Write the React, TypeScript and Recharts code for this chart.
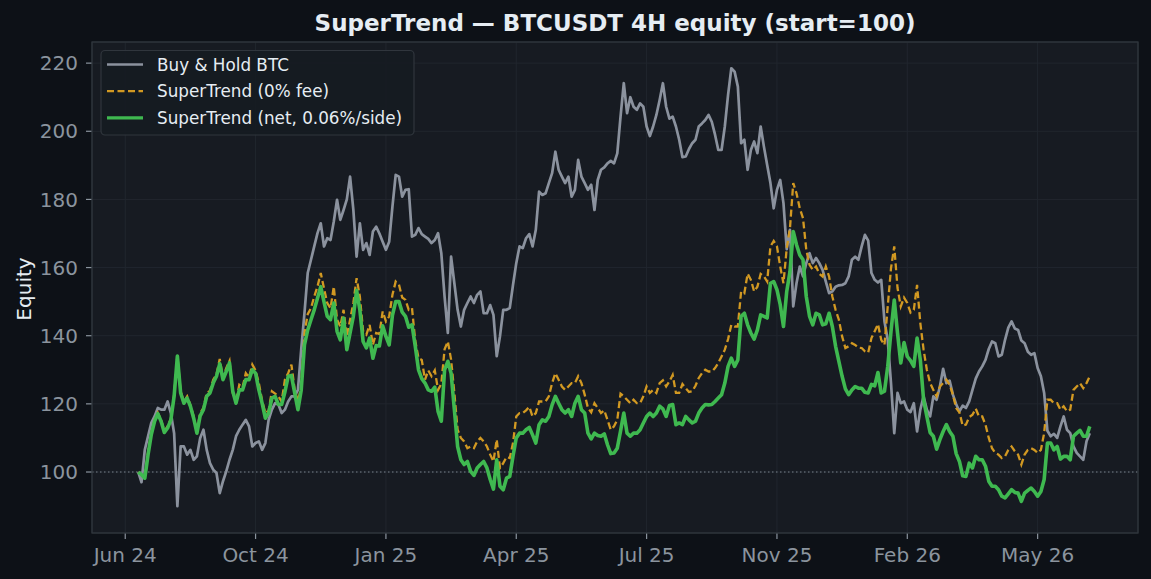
import React from 'react';
import { LineChart, Line, XAxis, YAxis, CartesianGrid, ReferenceLine } from 'recharts';

// ---- data (equity, start = 100), one value every 2.5 days ----
const START_DAY = 10;
const STEP_DAYS = 2.5;

const buyHold = [
  100, 97, 106.5, 110.5, 114.4, 116.3, 118.8, 118.3, 118.3, 120.7, 117.3, 111.4, 90.0, 107.5, 107.5, 105.1, 106.5, 103.6, 104.6, 110.0,
  112.4, 106.5, 102.6, 100.7, 99.7, 93.8, 97.3, 100.2, 103.6, 106.5, 110.5, 112.4, 113.9, 115.3, 113.4, 107.5, 108.5, 109.0, 106.5, 108.5,
  115.3, 118.3, 120.2, 119.8, 117.3, 118.3, 120.7, 122.2, 122.2, 124.1, 135.9, 146.6, 158.4, 162.3, 166.2, 170.1, 173.0, 166.2, 168.6, 168.1,
  173.5, 179.9, 174.0, 176.9, 180.0, 186.7, 177.0, 163.2, 173.0, 165.2, 167.2, 163.7, 170.6, 172.0, 170.0, 167.6, 165.2, 167.6, 177.9, 187.2,
  186.7, 180.8, 182.8, 183.0, 169.1, 169.6, 171.6, 169.8, 169.1, 168.4, 167.2, 168.1, 170.1, 164.2, 151.5, 140.8, 163.2, 155.4, 147.6, 142.7,
  147.6, 149.6, 151.5, 149.6, 152.0, 153.0, 146.6, 146.6, 149.0, 146.1, 134.0, 139.8, 147.6, 147.6, 148.1, 154.9, 161.3, 166.2, 165.7, 168.6,
  169.8, 166.2, 171.1, 182.3, 181.3, 181.8, 184.8, 187.7, 194.0, 188.7, 186.7, 184.8, 186.7, 180.8, 182.8, 191.6, 186.7, 184.8, 182.8, 184.3,
  176.9, 185.7, 188.7, 189.4, 190.6, 191.3, 190.6, 193.5, 204.3, 214.1, 205.3, 210.0, 207.2, 206.3, 208.2, 207.2, 201.4, 198.6, 201.4, 204.8,
  209.2, 214.1, 207.2, 203.7, 204.3, 201.4, 197.5, 192.4, 192.6, 194.8, 196.5, 197.5, 201.4, 202.3, 203.3, 204.8, 202.8, 199.0, 194.5, 194.5,
  201.4, 210.7, 218.5, 217.5, 213.1, 196.5, 197.5, 188.7, 194.5, 197.0, 193.6, 201.4, 195.5, 190.1, 184.8, 177.4, 182.8, 185.7, 178.9, 165.4,
  171.1, 148.6, 155.4, 160.3, 157.4, 161.3, 164.2, 161.3, 162.8, 161.3, 159.3, 155.9, 152.5, 153.0, 154.4, 154.8, 154.9, 155.4, 157.4, 162.3,
  163.2, 162.3, 166.2, 169.6, 167.9, 158.4, 156.4, 155.6, 156.4, 144.2, 138.8, 126.1, 111.4, 123.2, 120.2, 120.7, 118.3, 117.6, 120.2, 111.9,
  118.3, 122.2, 118.3, 116.3, 122.2, 121.2, 125.1, 130.3, 126.1, 126.8, 122.7, 119.9, 117.8, 119.5, 118.8, 120.7, 124.1, 127.4, 129.5, 131.0,
  132.9, 136.1, 138.3, 137.8, 133.9, 134.4, 138.8, 142.4, 144.2, 142.1, 141.7, 138.6, 137.8, 135.3, 134.4, 134.9, 130.5, 128.1, 123.2, 112.1,
  110.5, 111.2, 110.0, 113.4, 116.3, 112.4, 111.4, 107.5, 105.6, 104.6, 103.6, 109.0, 111.4,
];

const superTrendNoFee = [
  100, 99.2, 98.3, 105.6, 111.3, 115.3, 117.4, 115.3, 112.0, 113.4, 115.6, 122.7, 134.2, 123.7, 120.5, 122.2, 119.6, 116.3, 111.9, 117.3,
  118.8, 123.2, 123.8, 127.1, 128.6, 133.2, 127.6, 130.5, 132.6, 123.2, 120.8, 125.6, 124.8, 129.0, 127.8, 131.5, 129.8, 126.1, 121.0, 117.3,
  118.0, 123.7, 123.0, 122.2, 120.7, 127.1, 129.0, 131.5, 124.1, 120.7, 125.0, 140.8, 146.3, 148.1, 151.5, 154.4, 158.4, 153.9, 149.6, 148.1,
  154.4, 144.7, 142.7, 147.6, 139.8, 144.7, 149.6, 156.9, 151.5, 141.3, 140.3, 143.2, 137.3, 140.8, 140.5, 147.1, 144.2, 145.7, 152.0, 155.9,
  155.0, 151.2, 150.5, 147.6, 148.1, 138.5, 133.4, 132.9, 127.1, 129.8, 128.1, 129.8, 124.1, 125.9, 136.0, 138.3, 133.0, 123.2, 112.4, 110.0,
  109.0, 107.0, 107.5, 107.0, 109.0, 110.0, 109.0, 107.5, 105.1, 103.1, 109.5, 101.2, 102.6, 104.4, 104.1, 108.5, 116.3, 117.3, 117.3, 118.1,
  119.1, 116.3, 117.3, 120.7, 120.7, 120.7, 122.2, 126.1, 129.0, 127.1, 125.1, 124.1, 125.1, 126.1, 126.1, 128.1, 126.1, 122.7, 118.8, 117.5,
  120.2, 118.8, 117.3, 118.1, 115.3, 112.4, 113.4, 115.3, 123.0, 122.2, 121.2, 120.2, 121.2, 120.2, 120.2, 122.2, 125.1, 123.2, 124.1, 123.2,
  126.1, 126.9, 125.1, 126.6, 128.5, 123.2, 123.2, 125.8, 124.6, 123.5, 123.7, 125.3, 127.6, 129.0, 130.0, 129.5, 129.5, 130.5, 132.0, 133.9,
  135.9, 139.0, 143.2, 142.7, 142.7, 153.0, 152.5, 158.2, 156.4, 153.0, 154.4, 158.1, 157.4, 155.9, 166.2, 167.8, 166.2, 160.3, 155.4, 165.7,
  171.6, 184.8, 181.8, 177.4, 174.5, 165.2, 160.8, 159.3, 160.3, 158.2, 157.4, 160.3, 157.4, 151.5, 147.6, 144.7, 139.8, 136.4, 136.9, 137.8,
  137.3, 136.5, 136.4, 135.4, 135.0, 139.3, 141.3, 143.4, 138.8, 137.3, 148.6, 159.8, 166.2, 154.0, 148.6, 151.2, 149.6, 146.8, 147.6, 154.9,
  143.7, 135.9, 130.0, 126.1, 124.1, 122.2, 125.1, 126.1, 127.1, 125.6, 122.7, 118.8, 117.5, 113.6, 113.9, 116.1, 116.8, 118.6, 116.3, 116.3,
  113.9, 110.0, 107.0, 105.6, 105.1, 104.1, 104.6, 106.5, 107.5, 106.1, 105.1, 102.2, 105.1, 106.5, 107.0, 106.5, 105.6, 106.5, 111.4, 121.2,
  121.2, 120.2, 120.2, 118.3, 119.3, 117.8, 118.3, 124.1, 125.1, 126.1, 124.6, 126.1, 128.1,
];

const superTrendNet = [
  100, 99.2, 98.2, 105.1, 111.0, 114.9, 117.1, 114.9, 111.6, 112.9, 115.3, 122.2, 134.0, 123.2, 120.2, 121.7, 119.3, 115.8, 111.4, 116.5,
  118.3, 122.2, 123.2, 126.1, 128.1, 131.8, 127.1, 129.5, 132.0, 123.7, 120.2, 124.1, 124.1, 127.1, 127.1, 130.0, 129.0, 124.1, 120.2, 115.8,
  117.3, 121.7, 122.2, 119.8, 119.8, 123.5, 128.1, 128.3, 123.2, 118.3, 124.0, 137.3, 141.7, 144.7, 147.6, 151.0, 154.4, 149.9, 145.7, 144.7,
  149.6, 141.3, 138.8, 145.2, 135.9, 140.8, 145.7, 153.3, 147.6, 138.3, 136.4, 139.3, 133.4, 137.1, 137.0, 142.9, 139.8, 137.3, 146.0, 150.0,
  150.0, 146.9, 145.7, 142.5, 143.2, 136.9, 130.0, 127.4, 126.1, 124.1, 123.7, 124.9, 117.8, 114.9, 130.0, 132.5, 129.0, 118.3, 107.5, 103.6,
  102.2, 103.1, 100.2, 99.0, 101.2, 102.2, 103.1, 101.2, 97.8, 95.0, 103.6, 95.8, 94.8, 98.2, 98.7, 104.6, 110.0, 111.4, 111.4, 112.4,
  113.1, 110.9, 108.5, 113.9, 115.3, 114.9, 116.3, 119.7, 122.2, 120.2, 118.3, 117.3, 118.3, 116.3, 120.2, 122.2, 118.3, 117.3, 111.4, 109.7,
  111.4, 110.7, 110.5, 111.2, 108.0, 105.4, 105.6, 107.0, 112.0, 117.3, 111.4, 110.5, 111.4, 111.4, 112.4, 114.4, 116.3, 117.3, 116.3, 117.3,
  119.3, 118.5, 116.3, 119.5, 119.8, 113.9, 114.4, 113.9, 116.3, 115.3, 114.4, 114.9, 117.3, 118.8, 119.8, 119.7, 119.8, 120.7, 121.7, 122.7,
  126.1, 131.0, 133.4, 131.0, 132.9, 145.7, 146.6, 143.2, 140.8, 139.0, 141.7, 146.1, 145.7, 145.2, 155.4, 155.9, 153.5, 149.1, 142.7, 153.0,
  158.8, 170.6, 166.7, 163.7, 162.3, 151.5, 145.7, 143.2, 146.6, 146.1, 143.2, 143.5, 146.6, 142.7, 136.9, 132.5, 128.1, 124.4, 122.7, 124.1,
  125.1, 124.6, 124.6, 123.4, 123.2, 125.7, 125.3, 129.2, 123.2, 123.7, 131.0, 141.3, 150.5, 140.8, 132.0, 138.0, 133.9, 132.7, 131.0, 139.3,
  132.9, 121.2, 116.3, 111.6, 110.5, 106.7, 109.5, 111.9, 113.9, 111.9, 110.5, 105.4, 103.1, 98.9, 98.7, 102.6, 101.2, 104.6, 103.6, 103.6,
  101.7, 97.3, 95.8, 95.8, 94.8, 92.9, 92.4, 93.6, 94.8, 94.0, 93.8, 91.4, 93.8, 94.6, 95.3, 94.3, 92.9, 94.3, 97.8, 108.5,
  108.5, 106.5, 107.5, 103.8, 104.6, 104.6, 103.6, 110.5, 111.4, 112.2, 110.5, 110.5, 113.4,
];

const xTickDays = [0, 100, 200, 300, 400, 500, 600, 700];
const xTickLabels = ['Jun 24', 'Oct 24', 'Jan 25', 'Apr 25', 'Jul 25', 'Nov 25', 'Feb 26', 'May 26'];
const yTicks = [100, 120, 140, 160, 180, 200, 220];

const seriesNames = ['Buy & Hold BTC', 'SuperTrend (0% fee)', 'SuperTrend (net, 0.06%/side)'];

const nPoints = Math.min(buyHold.length, superTrendNoFee.length, superTrendNet.length);
const data = buyHold.slice(0, nPoints).map((v, i) => ({
  day: START_DAY + i * STEP_DAYS,
  hold: v,
  gross: superTrendNoFee[i],
  net: superTrendNet[i],
}));

// ---- styling ----
const W = 1151;
const H = 579;
const FONT = '"DejaVu Sans", Verdana, sans-serif';
const BG = '#0d1117';
const PANEL = '#171b22';
const SPINE = '#30363d';
const MUTED = '#8b949e';
const TEXT = '#e6edf3';
const GREY = '#8b929e';
const ORANGE = '#d29922';
const GREEN = '#3fb950';

const PLOT = { left: 92, top: 42, right: 1138, bottom: 533 };

const labelForDay = (v: number) => {
  const i = xTickDays.indexOf(v);
  return i >= 0 ? xTickLabels[i] : '';
};

export default function App() {
  const legendRows = [
    { name: seriesNames[0], color: GREY, width: 2.6, dash: undefined as string | undefined },
    { name: seriesNames[1], color: ORANGE, width: 2.2, dash: '7 3.5' },
    { name: seriesNames[2], color: GREEN, width: 3.4, dash: undefined },
  ];
  return (
    <div style={{ position: 'fixed', left: 0, top: 0, width: W, height: H, background: BG, fontFamily: FONT }}>
      <LineChart
        width={W}
        height={H}
        data={data}
        margin={{ top: PLOT.top, right: W - PLOT.right, bottom: 0, left: 0 }}
      >
        <CartesianGrid stroke="#21262e" strokeWidth={1} fill={PANEL} fillOpacity={1} />
        <XAxis
          dataKey="day"
          type="number"
          domain={[-25.5, 777]}
          allowDataOverflow
          ticks={xTickDays}
          interval={0}
          tickFormatter={labelForDay}
          height={H - PLOT.bottom}
          axisLine={false}
          tickLine={{ stroke: MUTED, strokeWidth: 1.2 }}
          tickSize={6}
          tickMargin={9}
          tick={{ fill: MUTED, fontSize: 20, fontFamily: FONT }}
        />
        <YAxis
          type="number"
          domain={[82.1, 226.2]}
          allowDataOverflow
          ticks={yTicks}
          interval={0}
          width={PLOT.left}
          axisLine={false}
          tickLine={{ stroke: MUTED, strokeWidth: 1.2 }}
          tickSize={6}
          tickMargin={8}
          tick={{ fill: MUTED, fontSize: 20, fontFamily: FONT }}
        />
        <ReferenceLine y={100} stroke={MUTED} strokeWidth={1.1} strokeDasharray="1.5 2.5" strokeOpacity={0.85} />
        <Line
          type="linear"
          dataKey="hold"
          name={seriesNames[0]}
          stroke={GREY}
          strokeWidth={2.7}
          dot={false}
          activeDot={false}
          strokeLinejoin="round"
          isAnimationActive={false}
        />
        <Line
          type="linear"
          dataKey="gross"
          name={seriesNames[1]}
          stroke={ORANGE}
          strokeWidth={2.3}
          strokeDasharray="7 3.5"
          dot={false}
          activeDot={false}
          isAnimationActive={false}
        />
        <Line
          type="linear"
          dataKey="net"
          name={seriesNames[2]}
          stroke={GREEN}
          strokeWidth={3.6}
          dot={false}
          activeDot={false}
          strokeLinejoin="round"
          isAnimationActive={false}
        />
      </LineChart>
      <svg
        width={W}
        height={H}
        style={{ position: 'absolute', left: 0, top: 0, pointerEvents: 'none' }}
      >
        <rect
          x={PLOT.left}
          y={PLOT.top}
          width={PLOT.right - PLOT.left}
          height={PLOT.bottom - PLOT.top}
          fill="none"
          stroke={SPINE}
          strokeWidth={1.3}
        />
        <text
          x={(PLOT.left + PLOT.right) / 2}
          y={31}
          textAnchor="middle"
          fill={TEXT}
          fontFamily={FONT}
          fontSize={23}
          fontWeight="bold"
        >
          SuperTrend — BTCUSDT 4H equity (start=100)
        </text>
        <text
          x={31}
          y={289}
          transform="rotate(-90 31 289)"
          textAnchor="middle"
          fill={TEXT}
          fontFamily={FONT}
          fontSize={20}
        >
          Equity
        </text>
        <g>
          <rect x={101} y={50.5} width={313} height={84.5} rx={4} fill="#161b22" fillOpacity={0.92} stroke={SPINE} strokeWidth={1.2} />
          {legendRows.map((r, i) => {
            const cy = 64.5 + i * 26.7;
            return (
              <g key={r.name}>
                <line x1={107} x2={143} y1={cy} y2={cy} stroke={r.color} strokeWidth={r.width} strokeDasharray={r.dash} />
                <text x={157} y={cy} dy="0.36em" fill={TEXT} fontFamily={FONT} fontSize={16.8}>
                  {r.name}
                </text>
              </g>
            );
          })}
        </g>
      </svg>
    </div>
  );
}
